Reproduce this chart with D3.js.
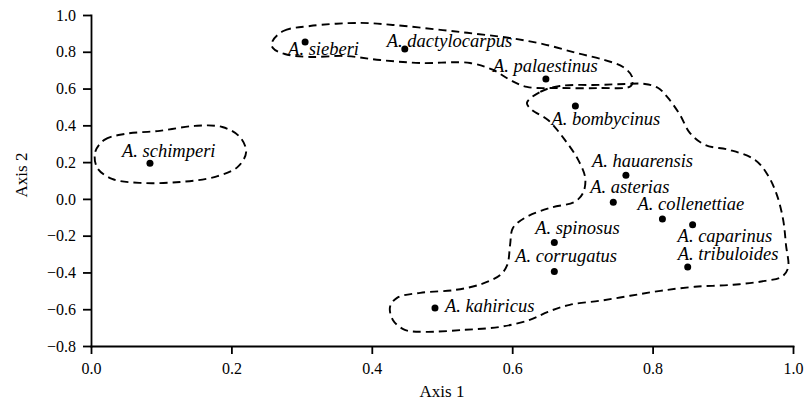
<!DOCTYPE html>
<html>
<head>
<meta charset="utf-8">
<script src="https://cdn.jsdelivr.net/npm/d3@7"></script>
<style>
  body { margin: 0; background: #fff; }
  .axis path, .axis line { stroke: #000; stroke-width: 1.8; }
  .hull { fill: none; stroke: #000; stroke-width: 1.9; stroke-dasharray: 8,5; }
</style>
</head>
<body>
<script>
// species scores on the two axes
var species = ["A. sieberi", "A. dactylocarpus", "A. palaestinus", "A. bombycinus",
  "A. schimperi", "A. hauarensis", "A. asterias", "A. collenettiae", "A. caparinus",
  "A. tribuloides", "A. spinosus", "A. corrugatus", "A. kahiricus"];
var axis1 = [0.305, 0.447, 0.648, 0.690, 0.084, 0.762, 0.744, 0.814, 0.857, 0.850, 0.660, 0.660, 0.490];
var axis2 = [0.853, 0.815, 0.652, 0.505, 0.194, 0.128, -0.018, -0.109, -0.141, -0.370, -0.237, -0.395, -0.594];

var xTicks = [0, 0.2, 0.4, 0.6, 0.8, 1.0];
var yTicks = [-0.8, -0.6, -0.4, -0.2, 0, 0.2, 0.4, 0.6, 0.8, 1.0];

// dashed group outlines, in axis units
var groupSchimperi = [[0.006,0.255],[0.019,0.321],[0.048,0.353],[0.098,0.370],[0.148,0.397],
  [0.187,0.391],[0.212,0.337],[0.221,0.255],[0.209,0.174],[0.177,0.120],[0.127,0.092],
  [0.070,0.087],[0.030,0.109],[0.009,0.168]];
var groupUpper = [[0.258,0.853],[0.274,0.913],[0.312,0.940],[0.383,0.957],[0.430,0.946],
  [0.501,0.918],[0.550,0.897],[0.597,0.875],[0.644,0.842],[0.692,0.793],[0.732,0.755],
  [0.758,0.717],[0.771,0.663],[0.769,0.614],[0.725,0.603],[0.668,0.603],[0.621,0.609],
  [0.597,0.647],[0.573,0.701],[0.540,0.739],[0.469,0.739],[0.412,0.755],[0.362,0.777],
  [0.312,0.772],[0.276,0.788],[0.259,0.821]];
var groupMain = [[0.621,0.522],[0.640,0.582],[0.668,0.614],[0.725,0.620],[0.761,0.625],
  [0.789,0.625],[0.808,0.603],[0.822,0.549],[0.839,0.457],[0.853,0.359],[0.875,0.293],
  [0.910,0.266],[0.946,0.212],[0.964,0.130],[0.977,0.022],[0.986,-0.114],[0.990,-0.250],
  [0.993,-0.375],[0.984,-0.424],[0.960,-0.446],[0.915,-0.467],[0.860,-0.478],[0.811,-0.500],
  [0.768,-0.527],[0.725,-0.554],[0.682,-0.576],[0.651,-0.614],[0.625,-0.658],[0.583,-0.696],
  [0.533,-0.712],[0.476,-0.723],[0.447,-0.712],[0.430,-0.658],[0.426,-0.587],[0.436,-0.538],
  [0.469,-0.511],[0.519,-0.495],[0.557,-0.462],[0.583,-0.413],[0.593,-0.359],[0.597,-0.250],
  [0.601,-0.158],[0.618,-0.103],[0.654,-0.049],[0.689,-0.016],[0.701,0.033],[0.704,0.114],
  [0.694,0.212],[0.675,0.321],[0.651,0.429],[0.628,0.484]];

// where each label sits relative to its dot (px)
var labelOffsets = [[-17,13],[-18,-2],[-53,-7],[-24,19],[-28,-6],[-34,-8],[-23,-9],
  [-25,-9],[-15,17],[-10,-7],[-19,-8],[-39,-10],[10,4]];

var width = 804, height = 404;
var serif = "'Liberation Serif', 'Times New Roman', serif";

var svg = d3.select("body").append("svg")
  .attr("width", width)
  .attr("height", height)
  .attr("font-family", serif);

var x = d3.scaleLinear().domain([0, 1]).range([91, 793]);
var y = d3.scaleLinear().domain([-0.8, 1]).range([346, 15]);

svg.append("g")
  .attr("class", "axis")
  .attr("transform", "translate(0,346)")
  .call(d3.axisBottom(x).tickValues(xTicks).tickFormat(d3.format(".1f"))
    .tickSize(8).tickSizeOuter(0).tickPadding(9));

svg.append("g")
  .attr("class", "axis")
  .attr("transform", "translate(91,0)")
  .call(d3.axisLeft(y).tickValues(yTicks).tickFormat(d3.format(".1f"))
    .tickSize(8).tickSizeOuter(0).tickPadding(7));

svg.selectAll(".axis")
  .attr("font-family", serif)
  .attr("font-size", 16);
svg.selectAll(".axis text").attr("fill", "#000");
svg.selectAll(".axis .domain").attr("stroke-linecap", "square");

svg.append("text")
  .attr("x", 442).attr("y", 397)
  .attr("text-anchor", "middle")
  .attr("font-size", 17)
  .attr("fill", "#000")
  .text("Axis 1");

svg.append("text")
  .attr("transform", "translate(27,175) rotate(-90)")
  .attr("text-anchor", "middle")
  .attr("font-size", 17)
  .attr("fill", "#000")
  .text("Axis 2");

var line = d3.line()
  .x(function(d) { return x(d[0]); })
  .y(function(d) { return y(d[1]); })
  .curve(d3.curveCatmullRomClosed.alpha(0.5));

svg.selectAll(".hull")
  .data([groupSchimperi, groupUpper, groupMain])
  .enter().append("path")
  .attr("class", "hull")
  .attr("d", line);

svg.selectAll(".dot")
  .data(species)
  .enter().append("circle")
  .attr("class", "dot")
  .attr("cx", function(d, i) { return x(axis1[i]); })
  .attr("cy", function(d, i) { return y(axis2[i]); })
  .attr("r", 3.5)
  .attr("fill", "#000");

svg.selectAll(".lbl")
  .data(species)
  .enter().append("text")
  .attr("class", "lbl")
  .attr("font-size", 18.5)
  .attr("font-style", "italic")
  .attr("fill", "#000")
  .attr("x", function(d, i) { return x(axis1[i]) + labelOffsets[i][0]; })
  .attr("y", function(d, i) { return y(axis2[i]) + labelOffsets[i][1]; })
  .text(function(d) { return d; });
</script>
</body>
</html>
